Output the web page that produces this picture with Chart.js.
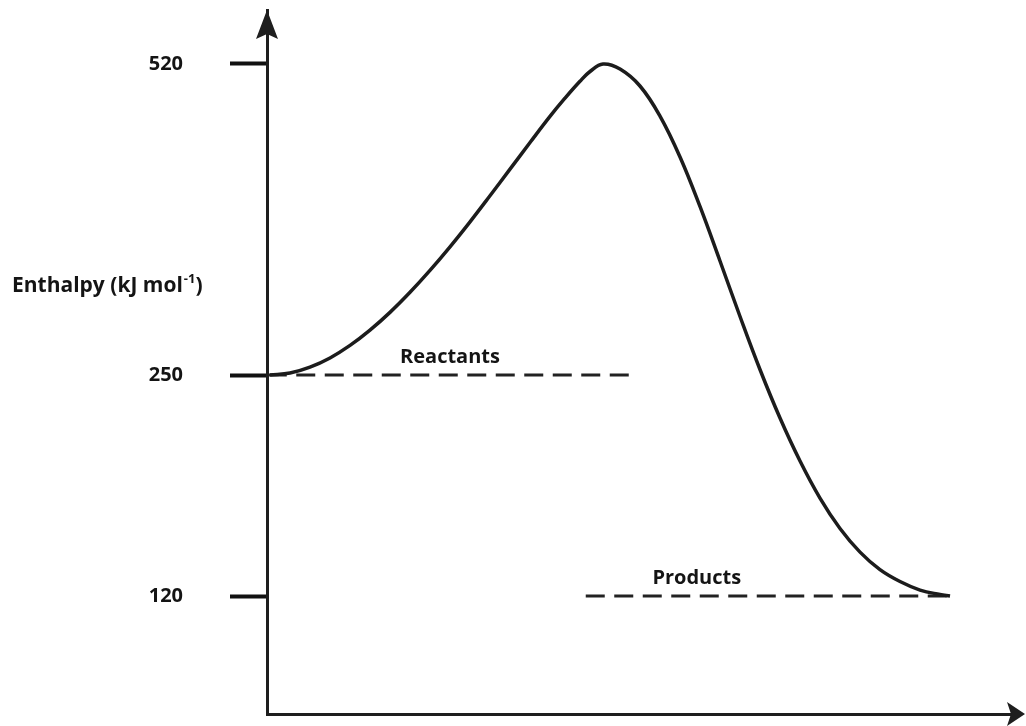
<!DOCTYPE html>
<html>
<head>
<meta charset="utf-8">
<title>Enthalpy profile</title>
<script src="https://cdn.jsdelivr.net/npm/chart.js@4.4.1/dist/chart.umd.min.js"></script>
<style>
  html, body { margin: 0; padding: 0; background: #fff; }
  #wrap { width: 1026px; height: 726px; }
</style>
</head>
<body>
<div id="wrap"><canvas id="profile"></canvas></div>
<script>
// reaction progress (0-100, arbitrary) and enthalpy (kJ/mol) along the curve
const progress = [0.4, 3.07, 5.73, 8.4, 11.07, 13.73, 16.4, 19.07, 21.73, 24.4, 27.07, 29.73, 32.4, 35.07, 37.73,
                  39.73, 41.73, 43.07, 44.8,
                  47.07, 49.73, 52.4, 55.07, 57.73, 60.4, 63.07, 65.73, 68.4, 71.07, 73.73, 76.4, 79.07, 81.73,
                  84.4, 87.07, 89.73, 91.07];
const enthalpy = [250, 251.7, 256.8, 264.8, 275.7, 289, 304.4, 321.8, 340.8, 361.3, 383, 405.6, 428.7, 451.8, 474.5,
                  490.3, 505, 513.5, 520,
                  515.6, 500.9, 474.8, 439.3, 396.3, 349, 300.8, 254.8, 224.7, 199.4, 177.6, 159.7, 145.8, 135.5,
                  128.5, 123.5, 120.9, 120];

// energy levels (dashed lines) and where they run
const levelNames = ['Reactants', 'Products'];
const levelEnergy = [250, 120];
const levelFrom = [0.1, 42.5];
const levelTo = [48.7, 91.3];

// tick labels on the enthalpy axis
const levelTicks = [120, 250, 520];

// the drawing is schematic, not to scale: the axis is stretched piecewise between its marked values
const axisStops = [50, 120, 250, 520, 565];
const axisFractions = [0, 0.1676, 0.4815, 0.9233, 1];

const LinearScale = Chart.LinearScale || Chart.registry.getScale('linear');

class SchematicScale extends LinearScale {
    getPixelForValue(value) {
        let i = 1;
        while (i < axisStops.length - 1 && value > axisStops[i]) i++;
        const t = (value - axisStops[i - 1]) / (axisStops[i] - axisStops[i - 1]);
        const f = axisFractions[i - 1] + t * (axisFractions[i] - axisFractions[i - 1]);
        return this.bottom - f * (this.bottom - this.top);
    }
    getValueForPixel(pixel) {
        const f = (this.bottom - pixel) / (this.bottom - this.top);
        let i = 1;
        while (i < axisFractions.length - 1 && f > axisFractions[i]) i++;
        const t = (f - axisFractions[i - 1]) / (axisFractions[i] - axisFractions[i - 1]);
        return axisStops[i - 1] + t * (axisStops[i] - axisStops[i - 1]);
    }
}
SchematicScale.id = 'schematic';
SchematicScale.defaults = LinearScale.defaults;
Chart.register(SchematicScale);

const INK = '#1e1e1e';
const FONT = '"Open Sans", Lato, sans-serif';

// arrows on the axes, level labels and the horizontal y-axis title
const profileDecor = {
    id: 'profileDecor',
    afterDraw(chart, args, opts) {
        const { ctx, chartArea: a, scales: { x, y } } = chart;
        ctx.save();
        ctx.fillStyle = INK;

        // up arrow
        ctx.beginPath();
        ctx.moveTo(a.left, a.top);
        ctx.lineTo(a.left - 11, a.top + 29);
        ctx.lineTo(a.left, a.top + 24);
        ctx.lineTo(a.left + 11, a.top + 29);
        ctx.closePath();
        ctx.fill();

        // right arrow
        ctx.beginPath();
        ctx.moveTo(a.right + 8, a.bottom);
        ctx.lineTo(a.right - 10, a.bottom - 12);
        ctx.lineTo(a.right - 6, a.bottom);
        ctx.lineTo(a.right - 10, a.bottom + 12);
        ctx.closePath();
        ctx.fill();

        ctx.fillStyle = '#141414';
        ctx.font = 'bold 20px ' + FONT;
        ctx.textAlign = 'center';
        ctx.textBaseline = 'alphabetic';
        levelNames.forEach((name, i) => {
            ctx.fillText(name, x.getPixelForValue(opts.labelAt[i]), y.getPixelForValue(levelEnergy[i]) - 12);
        });

        // Enthalpy (kJ mol⁻¹)
        ctx.textAlign = 'left';
        let tx = 12;
        const ty = 292;
        ctx.font = 'bold 21px ' + FONT;
        const main = 'Enthalpy (kJ mol';
        ctx.fillText(main, tx, ty);
        tx += ctx.measureText(main).width;
        ctx.font = 'bold 13px ' + FONT;
        ctx.fillText('-1', tx + 1, ty - 9);
        tx += ctx.measureText('-1').width + 1;
        ctx.font = 'bold 21px ' + FONT;
        ctx.fillText(')', tx, ty);

        ctx.restore();
    }
};

const curve = progress.map((p, i) => ({ x: p, y: enthalpy[i] }));
const levelSets = levelNames.map((name, i) => ({
    label: name,
    data: [{ x: levelFrom[i], y: levelEnergy[i] }, { x: levelTo[i], y: levelEnergy[i] }],
    borderColor: '#222',
    borderWidth: 3,
    borderDash: [19, 9.5],
    pointRadius: 0,
    order: 2
}));

new Chart(document.getElementById('profile'), {
    type: 'line',
    data: {
        datasets: [{
            label: 'Enthalpy',
            data: curve,
            borderColor: '#1c1c1c',
            borderWidth: 3.5,
            tension: 0.4,
            pointRadius: 0,
            order: 1
        }, ...levelSets]
    },
    options: {
        responsive: true,
        maintainAspectRatio: false,
        animation: false,
        events: [],
        layout: { padding: { top: 10, right: 9, bottom: 12, left: 0 } },
        plugins: {
            legend: { display: false },
            tooltip: { enabled: false },
            profileDecor: { labelAt: [24.4, 57.3] }
        },
        scales: {
            x: {
                type: 'linear',
                min: 0,
                max: 100,
                ticks: { display: false },
                grid: { display: false, drawTicks: false },
                border: { display: true, color: INK, width: 3 },
                afterFit(scale) { scale.height = 0; }
            },
            y: {
                type: 'schematic',
                min: axisStops[0],
                max: axisStops[axisStops.length - 1],
                afterBuildTicks(scale) { scale.ticks = levelTicks.map(v => ({ value: v })); },
                afterFit(scale) {
                    scale.width = 267;
                    scale.paddingTop = 0;
                    scale.paddingBottom = 0;
                },
                ticks: {
                    padding: 47,
                    color: '#141414',
                    font: { family: FONT, size: 20, weight: 'bold' },
                    callback: v => String(v)
                },
                grid: {
                    drawOnChartArea: false,
                    drawTicks: true,
                    tickLength: 37,
                    tickWidth: 4,
                    tickColor: '#111'
                },
                border: { display: true, color: INK, width: 3 }
            }
        }
    },
    plugins: [profileDecor]
});
</script>
</body>
</html>
